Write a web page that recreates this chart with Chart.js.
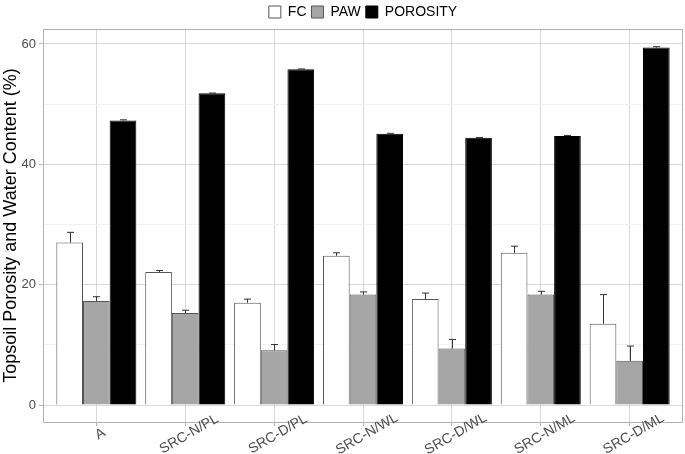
<!DOCTYPE html>
<html>
<head>
<meta charset="utf-8">
<script src="https://cdn.jsdelivr.net/npm/chart.js@4"></script>
<style>
  html, body { margin: 0; padding: 0; background: #fff; }
  #wrap { width: 685px; height: 454px; }
</style>
</head>
<body>
<div id="wrap"><canvas id="chart" width="685" height="454"></canvas></div>
<script>
// values
const categories = ['A', 'SRC-N/PL', 'SRC-D/PL', 'SRC-N/WL', 'SRC-D/WL', 'SRC-N/ML', 'SRC-D/ML'];
const fcValues = [27.0, 22.1, 17.0, 24.8, 17.6, 25.3, 13.5];
const fcErrors = [1.7, 0.25, 0.6, 0.5, 1.0, 1.1, 4.85];
const pawValues = [17.3, 15.3, 9.1, 18.35, 9.4, 18.35, 7.35];
const pawErrors = [0.7, 0.45, 0.95, 0.45, 1.5, 0.55, 2.45];
const porosityValues = [47.3, 51.8, 55.8, 45.1, 44.4, 44.7, 59.4];
const porosityErrors = [0.1, 0.05, 0.05, 0.05, 0.05, 0.1, 0.15];
const yTicks = [0, 10, 20, 30, 40, 50, 60];
const yLabelEvery = 20;

const FONT = 'Liberation Sans, Arial, sans-serif';
const toPoints = arr => arr.map((v, i) => ({x: i, y: v}));

// upward error bars
const errorBars = {
  id: 'errorBars',
  afterDatasetsDraw(chart) {
    const ctx = chart.ctx;
    const y = chart.scales.y;
    ctx.save();
    ctx.strokeStyle = '#333';
    ctx.lineWidth = 1;
    chart.data.datasets.forEach((ds, di) => {
      const meta = chart.getDatasetMeta(di);
      meta.data.forEach((bar, i) => {
        const top = y.getPixelForValue(ds.data[i].y + ds.errors[i]);
        const x = Math.round(bar.x) + 0.5;
        ctx.beginPath();
        ctx.moveTo(x, bar.y);
        ctx.lineTo(x, top);
        ctx.moveTo(x - 3.5, top);
        ctx.lineTo(x + 3.5, top);
        ctx.stroke();
      });
    });
    ctx.restore();
  }
};

// panel border on all four sides + centred, slanted category labels
const panelBorder = {
  id: 'panelBorder',
  afterLayout(chart) {
    // centre the legend over the panel rather than the whole canvas
    const lg = chart.legend, a = chart.chartArea;
    const shift = (a.left + a.right) / 2 - (lg.left + lg.right) / 2;
    lg.left += shift;
    lg.right += shift;
  },
  afterDraw(chart) {
    const a = chart.chartArea, ctx = chart.ctx;
    ctx.save();
    ctx.strokeStyle = '#b3b3b3';
    ctx.lineWidth = 1;
    ctx.strokeRect(Math.round(a.left) + 0.5, Math.round(a.top) + 0.5,
      Math.round(a.right - a.left) - 1, Math.round(a.bottom - a.top));
    const xs = chart.scales.x;
    ctx.fillStyle = '#4d4d4d';
    ctx.font = '14px ' + FONT;
    ctx.textAlign = 'center';
    ctx.textBaseline = 'middle';
    categories.forEach((c, i) => {
      ctx.save();
      ctx.translate(xs.getPixelForValue(i) + 4, a.bottom + 12);
      ctx.rotate(-Math.PI / 6);
      ctx.fillText(c, 0, 0);
      ctx.restore();
    });
    ctx.restore();
  }
};

new Chart(document.getElementById('chart'), {
  type: 'bar',
  data: {
    datasets: [
      {label: 'FC', data: toPoints(fcValues), errors: fcErrors,
       backgroundColor: '#ffffff', borderColor: '#555555', borderWidth: 1},
      {label: 'PAW', data: toPoints(pawValues), errors: pawErrors,
       backgroundColor: '#a6a6a6', borderColor: '#555555', borderWidth: 1},
      {label: 'POROSITY', data: toPoints(porosityValues), errors: porosityErrors,
       backgroundColor: '#000000', borderColor: '#000000', borderWidth: 1}
    ]
  },
  options: {
    responsive: false,
    animation: false,
    layout: {padding: {top: 0, right: 2, left: 0, bottom: 0}},
    datasets: {bar: {categoryPercentage: 0.9, barPercentage: 1.0}},
    plugins: {
      tooltip: {enabled: false},
      legend: {
        position: 'top',
        labels: {
          boxWidth: 12, boxHeight: 12, padding: 5,
          color: '#000', font: {family: FONT, size: 14}
        }
      }
    },
    scales: {
      x: {
        type: 'linear',
        offset: false,
        min: -0.6, max: 6.6,
        afterBuildTicks: s => { s.ticks = categories.map((c, i) => ({value: i})); },
        afterFit: s => { s.height = 32; },
        ticks: {display: false},
        grid: {offset: false, color: '#d9d9d9', tickColor: '#b3b3b3', tickLength: 4, lineWidth: 1},
        border: {display: false}
      },
      y: {
        min: -2.82, max: 62.49,
        afterBuildTicks: s => { s.ticks = yTicks.map(v => ({value: v})); },
        afterFit: s => { s.width = 43; },
        ticks: {
          color: '#4d4d4d', font: {family: FONT, size: 13}, padding: 3,
          callback: v => (v % yLabelEvery === 0 ? v : '')
        },
        grid: {
          color: c => (c.tick.value % yLabelEvery === 0 ? '#d9d9d9' : '#f3f3f3'),
          tickColor: c => (c.tick.value % yLabelEvery === 0 ? '#b3b3b3' : 'rgba(0,0,0,0)'),
          tickLength: 4
        },
        border: {display: false},
        title: {
          display: true, text: 'Topsoil Porosity and Water Content (%)',
          color: '#000', font: {family: FONT, size: 18}, padding: {top: 0, bottom: 1}
        }
      }
    }
  },
  plugins: [errorBars, panelBorder]
});
</script>
</body>
</html>
